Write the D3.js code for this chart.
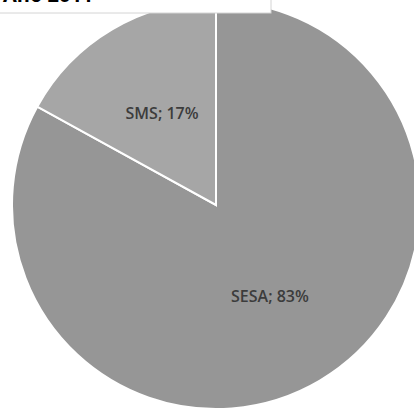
<!DOCTYPE html>
<html>
<head>
<meta charset="utf-8">
<script src="https://cdn.jsdelivr.net/npm/d3@7"></script>
<style>
  body { margin: 0; background: #fff; }
  svg { display: block; }
</style>
</head>
<body>
<svg id="chart"></svg>
<script>
var labels = ["SESA", "SMS"];
var values = [83, 17];
var sliceColors = ["#969696", "#a6a6a6"];
var titleText = "Ano 2011";

var width = 414;
var height = 412;
var svg = d3.select("#chart")
    .attr("width", width)
    .attr("height", height);

var cx = 216, cy = 205, radius = 204;

var pie = d3.pie().sort(null).value(function(d){ return d; });
var arcs = pie(values);
var arc = d3.arc().innerRadius(0).outerRadius(radius);
var labelArc = d3.arc().innerRadius(106).outerRadius(106);

var g = svg.append("g")
    .attr("transform", "translate(" + cx + "," + cy + ")");

g.selectAll("path")
    .data(arcs)
    .enter()
    .append("path")
    .attr("d", arc)
    .attr("fill", function(d, i){ return sliceColors[i]; })
    .attr("stroke", "#ffffff")
    .attr("stroke-width", 2)
    .attr("stroke-linejoin", "miter");

g.selectAll("text.lbl")
    .data(arcs)
    .enter()
    .append("text")
    .attr("class", "lbl")
    .attr("x", function(d){ return labelArc.centroid(d)[0]; })
    .attr("y", function(d){ return labelArc.centroid(d)[1]; })
    .attr("dy", "0.35em")
    .attr("text-anchor", "middle")
    .attr("font-family", "Open Sans, sans-serif")
    .attr("font-weight", 600)
    .attr("font-size", "16px")
    .attr("fill", "#3c3c3c")
    .text(function(d, i){ return labels[i] + "; " + values[i] + "%"; });

// title box, cut off at the top of the picture as in the source
svg.append("rect")
    .attr("x", -1)
    .attr("y", -1)
    .attr("width", 272)
    .attr("height", 14)
    .attr("fill", "#ffffff")
    .attr("stroke", "#d4d4d4")
    .attr("stroke-width", 1);
svg.append("text")
    .attr("x", 3)
    .attr("y", 2)
    .attr("font-family", "Open Sans, sans-serif")
    .attr("font-weight", 700)
    .attr("font-size", "20px")
    .attr("fill", "#000")
    .text(titleText);
</script>
</body>
</html>
